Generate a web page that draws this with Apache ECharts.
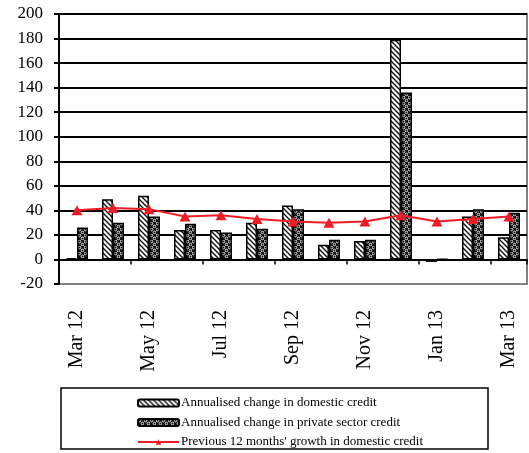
<!DOCTYPE html>
<html>
<head>
<meta charset="utf-8">
<script src="https://cdn.jsdelivr.net/npm/echarts@6/dist/echarts.min.js"></script>
<style>
html,body{margin:0;padding:0;background:#fff;}
#chart{width:529px;height:453px;}
</style>
</head>
<body>
<div id="chart"></div>
<script>
var months = ['Mar 12','Apr 12','May 12','Jun 12','Jul 12','Aug 12','Sep 12','Oct 12','Nov 12','Dec 12','Jan 13','Feb 13','Mar 13'];
var domesticCredit = [1, 49, 52, 24, 24, 30, 44, 12, 15, 179, -2, 35, 18];
var privateCredit = [26, 30, 35, 29, 22, 25, 41, 16, 16, 136, 0.5, 41, 38];
var growth12m = [40, 42, 41, 35, 36, 33, 31, 30, 31, 36, 31, 33, 35];
var seriesNames = ['Annualised change in domestic credit','Annualised change in private sector credit',"Previous 12 months' growth in domestic credit"];
var yTicks = {min: -20, max: 200, interval: 20};

function stripePattern(){
  var s = 5;
  var c = document.createElement('canvas'); c.width = s; c.height = s;
  var g = c.getContext('2d');
  g.fillStyle = '#fff'; g.fillRect(0,0,s,s);
  g.strokeStyle = '#111'; g.lineWidth = 1.4;
  g.beginPath();
  g.moveTo(-1,-1); g.lineTo(s+1,s+1);
  g.moveTo(-1,s-1); g.lineTo(1,s+1);
  g.moveTo(s-1,-1); g.lineTo(s+1,1);
  g.stroke();
  return c;
}
function dotPattern(){
  var c = document.createElement('canvas'); c.width = 6; c.height = 6;
  var g = c.getContext('2d');
  g.fillStyle = '#151515'; g.fillRect(0,0,6,6);
  g.strokeStyle = '#e0e0e0'; g.lineWidth = 1;
  g.beginPath(); g.arc(1.5,1.5,1.3,0,Math.PI*2); g.stroke();
  g.beginPath(); g.arc(4.5,4.5,1.3,0,Math.PI*2); g.stroke();
  return c;
}

var splitColors = ['#808080'];
for (var i = 0; i < 11; i++) splitColors.push('#000');
splitColors.push('#808080');

var chart = echarts.init(document.getElementById('chart'), null, {renderer:'canvas'});
var serif = '"Liberation Serif","Times New Roman",serif';
chart.setOption({
  animation: false,
  backgroundColor: '#fff',
  grid: {left: 59, right: 2, top: 14, bottom: 169, show: true, borderColor: '#808080', borderWidth: 2, backgroundColor: 'transparent'},
  graphic: [{type:'rect', shape:{x:61, y:388, width:427, height:61}, style:{fill:'none', stroke:'#000', lineWidth:1.5}, z: 1}],
  legend: {
    orient: 'vertical', left: 137, top: 396, padding: 0,
    itemWidth: 41, itemHeight: 7, itemGap: 5.5,
    textStyle: {fontFamily: serif, fontSize: 13, color: '#000', lineHeight: 14, padding: [0,0,0,-3]},
    data: seriesNames
  },
  xAxis: {
    type: 'category', data: months, boundaryGap: true,
    axisLine: {onZero: true, lineStyle: {color: '#000', width: 2}},
    axisTick: {show: true, interval: 1, length: 5, lineStyle: {color: '#000', width: 1.5}},
    axisLabel: {interval: 1, rotate: 90, margin: 26, fontFamily: serif, fontSize: 20, color: '#000'},
    splitLine: {show: false}
  },
  yAxis: {
    type: 'value', min: yTicks.min, max: yTicks.max, interval: yTicks.interval,
    axisLine: {show: true, onZero: false, lineStyle: {color: '#000', width: 2}},
    axisTick: {show: true, length: 5, lineStyle: {color: '#000', width: 2}},
    axisLabel: {margin: 16, fontFamily: serif, fontSize: 17, color: '#000'},
    splitLine: {show: true, lineStyle: {color: splitColors, width: 2}}
  },
  series: [
    {name: seriesNames[0], type: 'bar', data: domesticCredit, barWidth: 11, barGap: '0%', z: 2,
     itemStyle: {color: {image: stripePattern(), repeat: 'repeat'}, borderColor: '#000', borderWidth: 1.5}},
    {name: seriesNames[1], type: 'bar', data: privateCredit, barWidth: 11, barGap: '0%', z: 2,
     itemStyle: {color: {image: dotPattern(), repeat: 'repeat'}, borderColor: '#000', borderWidth: 1.5}},
    {name: seriesNames[2], type: 'line', data: growth12m, z: 5,
     symbol: 'triangle', symbolSize: [11, 10], showSymbol: true,
     lineStyle: {color: '#ee1c25', width: 2}, itemStyle: {color: '#ee1c25'}}
  ]
});
</script>
</body>
</html>
